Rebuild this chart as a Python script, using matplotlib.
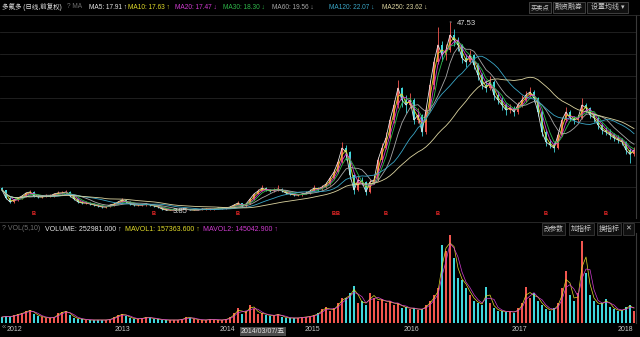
import numpy as np
import pandas as pd
import matplotlib
matplotlib.use("Agg")
import matplotlib.pyplot as plt
from matplotlib.patches import Rectangle
from matplotlib.transforms import blended_transform_factory

plt.rcParams['font.family'] = ['Liberation Sans Narrow', 'Liberation Sans', 'Noto Sans CJK SC', 'DejaVu Sans']

# price per period (each period ~ 2 weeks of trading)
closes = [8.54, 6.68, 5.76, 6.22, 6.68, 7.15, 7.84, 8.08, 7.15, 6.92,
          6.92, 7.15, 7.15, 7.61, 7.84, 7.84, 8.08, 7.15, 6.45, 5.76,
          5.52, 5.52, 5.29, 5.06, 4.83, 4.60, 4.60, 5.06, 5.29, 5.76,
          6.22, 5.76, 5.29, 5.06, 5.06, 5.06, 5.29, 5.06, 4.83, 4.60,
          4.13, 3.90, 3.90, 3.90, 3.90, 4.13, 4.13, 3.90, 3.90, 3.90,
          4.13, 4.13, 4.13, 4.13, 4.36, 4.36, 4.36, 4.60, 5.06, 5.52,
          4.83, 5.29, 6.45, 7.61, 8.31, 9.00, 8.54, 8.31, 8.54, 8.77,
          8.31, 7.84, 7.61, 7.38, 7.38, 7.61, 7.84, 8.31, 9.00, 8.77,
          9.24, 9.93, 11.32, 12.72, 15.04, 18.28, 17.36, 12.02, 8.54, 10.86,
          10.40, 8.08, 10.40, 10.86, 15.50, 18.28, 20.60, 24.78, 28.26, 32.20,
          29.42, 28.26, 29.42, 24.78, 25.94, 21.99, 27.10, 32.90, 38.24, 42.18,
          39.86, 41.02, 44.50, 43.34, 42.18, 39.16, 38.24, 39.86, 37.54, 35.22,
          32.90, 32.20, 33.60, 30.58, 29.42, 28.26, 27.10, 27.56, 26.64, 28.26,
          29.42, 30.58, 31.28, 29.88, 26.64, 21.99, 19.68, 18.98, 18.28, 21.30,
          24.78, 26.64, 25.24, 24.78, 25.24, 28.26, 27.56, 25.94, 25.24, 23.62,
          22.46, 21.99, 21.30, 20.60, 20.14, 19.68, 17.82, 16.80, 17.82]
highs = [9.2, 8.6, 6.9, 6.5, 6.9, 7.4, 8.1, 8.6, 8.3, 7.4,
         7.3, 7.5, 7.5, 7.9, 8.2, 8.3, 8.6, 8.2, 7.3, 6.6,
         5.9, 5.9, 5.7, 5.5, 5.2, 5.0, 4.9, 5.3, 5.6, 6.1,
         6.6, 6.3, 5.9, 5.5, 5.4, 5.3, 5.6, 5.4, 5.1, 4.9,
         4.7, 4.3, 4.2, 4.2, 4.1, 4.3, 4.3, 4.2, 4.1, 4.1,
         4.3, 4.3, 4.3, 4.3, 4.5, 4.5, 4.6, 4.8, 5.3, 6.0,
         5.6, 5.5, 6.7, 7.9, 8.8, 9.8, 9.3, 8.8, 9.0, 9.7,
         8.9, 8.4, 8.0, 7.8, 7.7, 7.9, 8.2, 8.7, 9.8, 9.3,
         9.7, 10.5, 11.8, 13.5, 15.8, 19.7, 19.0, 17.5, 12.3, 11.8,
         11.6, 10.6, 11.0, 12.0, 16.2, 19.5, 22.0, 25.8, 29.5, 34.1,
         32.5, 30.5, 31.0, 29.8, 27.5, 26.2, 28.0, 34.0, 39.5, 46.3,
         43.0, 42.5, 47.53, 45.8, 44.0, 42.5, 40.0, 41.0, 40.2, 38.0,
         35.6, 34.0, 35.0, 34.0, 31.5, 30.0, 28.8, 28.5, 28.0, 29.0,
         30.5, 31.5, 32.4, 31.8, 30.2, 27.0, 22.4, 20.3, 19.6, 22.0,
         25.5, 27.8, 27.0, 25.8, 26.0, 29.8, 28.8, 27.8, 26.4, 25.6,
         24.0, 23.2, 22.6, 21.8, 21.2, 20.6, 20.0, 18.2, 18.4]
lows = [8.2, 6.4, 5.5, 5.6, 6.0, 6.5, 7.0, 7.7, 6.9, 6.7,
        6.6, 6.8, 6.9, 7.0, 7.4, 7.5, 7.7, 6.9, 6.2, 5.5,
        5.3, 5.2, 5.1, 4.8, 4.6, 4.4, 4.3, 4.5, 4.9, 5.2,
        5.6, 5.5, 5.1, 4.9, 4.8, 4.8, 4.9, 4.8, 4.6, 4.4,
        4.0, 3.85, 3.86, 3.87, 3.87, 3.88, 4.0, 3.88, 3.88, 3.88,
        3.9, 4.0, 4.0, 4.0, 4.1, 4.2, 4.2, 4.3, 4.5, 5.0,
        4.7, 4.7, 5.2, 6.3, 7.5, 8.2, 8.2, 8.0, 8.1, 8.4,
        8.0, 7.6, 7.3, 7.1, 7.1, 7.2, 7.5, 7.7, 8.2, 8.3,
        8.6, 9.0, 9.8, 11.0, 12.5, 14.8, 15.5, 11.0, 7.6, 8.3,
        9.6, 7.4, 7.9, 10.0, 10.6, 15.0, 18.0, 20.3, 24.0, 27.5,
        27.8, 26.5, 27.5, 23.8, 24.0, 21.0, 21.6, 26.8, 32.0, 37.8,
        38.5, 38.8, 40.5, 42.0, 40.8, 38.0, 37.0, 37.8, 36.5, 34.0,
        32.0, 31.2, 31.8, 29.5, 28.5, 27.2, 26.0, 26.3, 25.6, 26.2,
        27.8, 29.0, 30.0, 29.0, 25.8, 21.0, 18.8, 18.2, 17.4, 18.0,
        21.0, 24.2, 24.5, 23.8, 24.2, 25.0, 26.5, 25.2, 24.4, 22.8,
        21.6, 21.2, 20.4, 19.8, 19.5, 19.0, 17.0, 14.9, 16.5]
first_open = 8.9

# volume per period, thousand shares
vols = [128, 150, 128, 171, 193, 214, 257, 278, 193, 150,
        128, 107, 107, 128, 214, 235, 257, 171, 107, 86,
        86, 64, 64, 64, 64, 64, 64, 86, 128, 171,
        193, 150, 107, 86, 86, 107, 128, 107, 86, 86,
        64, 64, 64, 64, 64, 86, 128, 107, 86, 64,
        64, 64, 86, 64, 64, 64, 86, 128, 214, 321,
        193, 257, 385, 300, 193, 214, 171, 150, 171, 193,
        128, 107, 107, 107, 107, 128, 128, 150, 171, 214,
        300, 342, 257, 321, 428, 535, 535, 642, 792, 428,
        471, 385, 642, 535, 471, 514, 428, 471, 385, 428,
        321, 342, 300, 321, 278, 300, 385, 471, 599, 749,
        1669, 1541, 1883, 1391, 963, 920, 749, 599, 471, 428,
        385, 770, 428, 321, 257, 257, 235, 257, 214, 321,
        428, 770, 535, 642, 471, 385, 300, 257, 321, 428,
        749, 1113, 599, 471, 642, 1755, 1070, 599, 471, 385,
        428, 514, 342, 300, 257, 278, 342, 385, 253]

ma_names = ['MA5', 'MA10', 'MA20', 'MA30', 'MA60', 'MA120', 'MA250']
ma_values = [17.91, 17.63, 17.47, 18.30, 19.56, 22.07, 23.62]
ma_arrows = ['↑', '↑', '↓', '↓', '↓', '↓', '↓']
ma_windows = [1, 2, 3, 4, 7, 13, 26]   # in periods
ma_colors = ['#e6e6e6', '#e2dc2a', '#d23cd2', '#2fb84a', '#a8a8a8', '#3aa6c6', '#dcd4a0']

years = ['2012', '2013', '2014', '2015', '2016', '2017', '2018']
year_pos = [3.0, 30.0, 56.3, 77.5, 102.25, 129.25, 155.75]
signal_idx = [8, 38, 59, 83, 84, 96, 109, 136, 151]
grid_levels = [45.2, 40.1, 35.0, 29.9, 24.6, 19.5, 14.4, 9.3]

closes = np.array(closes)
highs = np.array(highs)
lows = np.array(lows)
vols = np.array(vols)
n = len(closes)
idx = np.arange(n)
opens = np.r_[first_open, closes[:-1]]
up = closes >= opens
UP, DOWN = '#f2564f', '#3fd6dc'
col = np.where(up, UP, DOWN)

W, H = 640, 337
fig = plt.figure(figsize=(6.4, 3.37), dpi=100, facecolor='black')
renderer = fig.canvas.get_renderer()


def fx(x):
    return x / W


def fy(y):
    return 1 - y / H


def fit_size(s, max_w, size=5.5):
    # largest font size (step 0.1) at which s is no wider than max_w pixels
    t = fig.text(0, 0, s, fontsize=size)
    while t.get_window_extent(renderer).width > max_w and size > 3:
        size -= 0.1
        t.set_fontsize(size)
    t.remove()
    return size


# --- price pane
ax = fig.add_axes([0, fy(218), fx(636), (218 - 15) / H], facecolor='black')
for g in grid_levels:
    ax.axhline(g, color='#242424', lw=0.6, zorder=0)
ax.vlines(idx, lows, highs, colors=col, lw=0.6, zorder=2)
ax.bar(idx, np.maximum(np.abs(closes - opens), 0.1), bottom=np.minimum(opens, closes),
       width=0.6, color=col, lw=0, zorder=2)
s = pd.Series(closes)
for name, w, c in zip(ma_names, ma_windows, ma_colors):
    ax.plot(idx, s.rolling(w, min_periods=1).mean(), color=c, lw=0.6, zorder=3)

pk = int(np.argmax(highs))
ax.annotate('47.53', xy=(pk, highs[pk]), xytext=(5, -1), textcoords='offset points',
            color='#d8d8d8', fontsize=5.5, va='center',
            arrowprops=dict(arrowstyle='-', color='#d8d8d8', lw=0.5))
lo = int(np.argmin(lows))
ax.annotate('3.85', xy=(lo, lows[lo]), xytext=(5, -1), textcoords='offset points',
            color='#d8d8d8', fontsize=5.5, va='center',
            arrowprops=dict(arrowstyle='-', color='#d8d8d8', lw=0.5))

tb = blended_transform_factory(ax.transData, ax.transAxes)
for i in signal_idx:
    ax.text(i, 0.012, 'B', transform=tb, color='#ff2a2a', fontsize=4, ha='center',
            va='bottom', fontweight='bold')

ax.set_xlim(-0.5, n - 0.5)
ax.set_ylim(2.04, 49.14)
ax.set_xticks([])
ax.set_yticks([])
for sp in ax.spines.values():
    sp.set_visible(False)
ax.spines['right'].set_visible(True)
ax.spines['right'].set_color('#3a3a3a')

# --- volume pane
vax = fig.add_axes([0, fy(323), fx(636), (323 - 233) / H], facecolor='black')
vax.bar(idx, vols, width=0.55, color=col, lw=0)
vs = pd.Series(vols)
vax.plot(idx, vs.rolling(2, min_periods=1).mean(), color='#e2dc2a', lw=0.5)
vax.plot(idx, vs.rolling(3, min_periods=1).mean(), color='#d23cd2', lw=0.5)
vax.set_xlim(-0.5, n - 0.5)
vax.set_ylim(0, 1926)
vax.set_yticks([])
vax.set_xticks(year_pos)
vax.set_xticklabels(years, color='#c8c8c8', fontsize=5)
vax.tick_params(axis='x', length=0, pad=2)
for sp in vax.spines.values():
    sp.set_visible(False)
vax.spines['right'].set_visible(True)
vax.spines['right'].set_color('#3a3a3a')
vb = blended_transform_factory(vax.transData, vax.transAxes)
vax.text(65.2, -0.055, '2014/03/07/五', transform=vb, color='#e0e0e0', fontsize=5,
         ha='center', va='top',
         bbox=dict(boxstyle='square,pad=0.15', fc='#4a4a4a', ec='none'))

# --- frame lines
fig.add_artist(plt.Line2D([0, 1], [fy(15), fy(15)], color='#2e2e2e', lw=0.6))
fig.add_artist(plt.Line2D([0, 1], [fy(221.5), fy(221.5)], color='#2e2e2e', lw=0.6))

# --- header (one common font size so the labels look alike)
lab_x = [89, 128, 175, 223, 272, 329, 382, 437]
ma_labels = [f'{nm}: {v:.2f} {a}' for nm, v, a in zip(ma_names, ma_values, ma_arrows)]
hsize = min(fit_size(lb, lab_x[k + 1] - lab_x[k] - 1) for k, lb in enumerate(ma_labels))
hsize = min(hsize, fit_size('多氟多 (日线,前复权)', 64))
fig.text(fx(2), fy(7), '多氟多 (日线,前复权)', color='#e0e0e0', fontsize=hsize, va='center')
fig.text(fx(67), fy(7), '? MA', color='#6e6e6e', fontsize=hsize, va='center')
for k, (lb, c) in enumerate(zip(ma_labels, ma_colors)):
    fig.text(fx(lab_x[k]), fy(7), lb, color=c, fontsize=hsize, va='center')

for label, x0, x1 in [('买卖点', 529, 551), ('融资融券', 553, 585), ('设置均线 ▾', 587, 628)]:
    fig.add_artist(Rectangle((fx(x0), fy(13)), fx(x1 - x0), (13 - 2) / H,
                             fc='#101010', ec='#555555', lw=0.5))
    fig.text(fx((x0 + x1) / 2), fy(7.5), label, color='#c8c8c8', ha='center', va='center',
             fontsize=fit_size(label, x1 - x0 - 3, 5))

# --- volume header
vlabels = ['VOLUME: 252981.000 ↑', 'MAVOL1: 157363.600 ↑', 'MAVOL2: 145042.900 ↑']
vcols = ['#e6e6e6', '#e2dc2a', '#d23cd2']
vx = [45, 125, 203, 282]
vsize = min(fit_size(lb, vx[k + 1] - vx[k] - 2) for k, lb in enumerate(vlabels))
fig.text(fx(2), fy(229), '? VOL(5,10)', color='#6e6e6e', fontsize=vsize, va='center')
for k, (lb, c) in enumerate(zip(vlabels, vcols)):
    fig.text(fx(vx[k]), fy(229), lb, color=c, fontsize=vsize, va='center')
for label, x0, x1 in [('改参数', 542, 565), ('加指标', 569, 594), ('换指标', 597, 621), ('✕', 623, 634)]:
    fig.add_artist(Rectangle((fx(x0), fy(235)), fx(x1 - x0), (235 - 223) / H,
                             fc='#101010', ec='#444444', lw=0.5))
    fig.text(fx((x0 + x1) / 2), fy(229), label, color='#c8c8c8', ha='center', va='center',
             fontsize=fit_size(label, x1 - x0 - 3, 5))

fig.text(fx(2), fy(328), '«', color='#8a8a8a', fontsize=5.5, va='center')

fig.savefig('out.png', dpi=100, facecolor='black')
